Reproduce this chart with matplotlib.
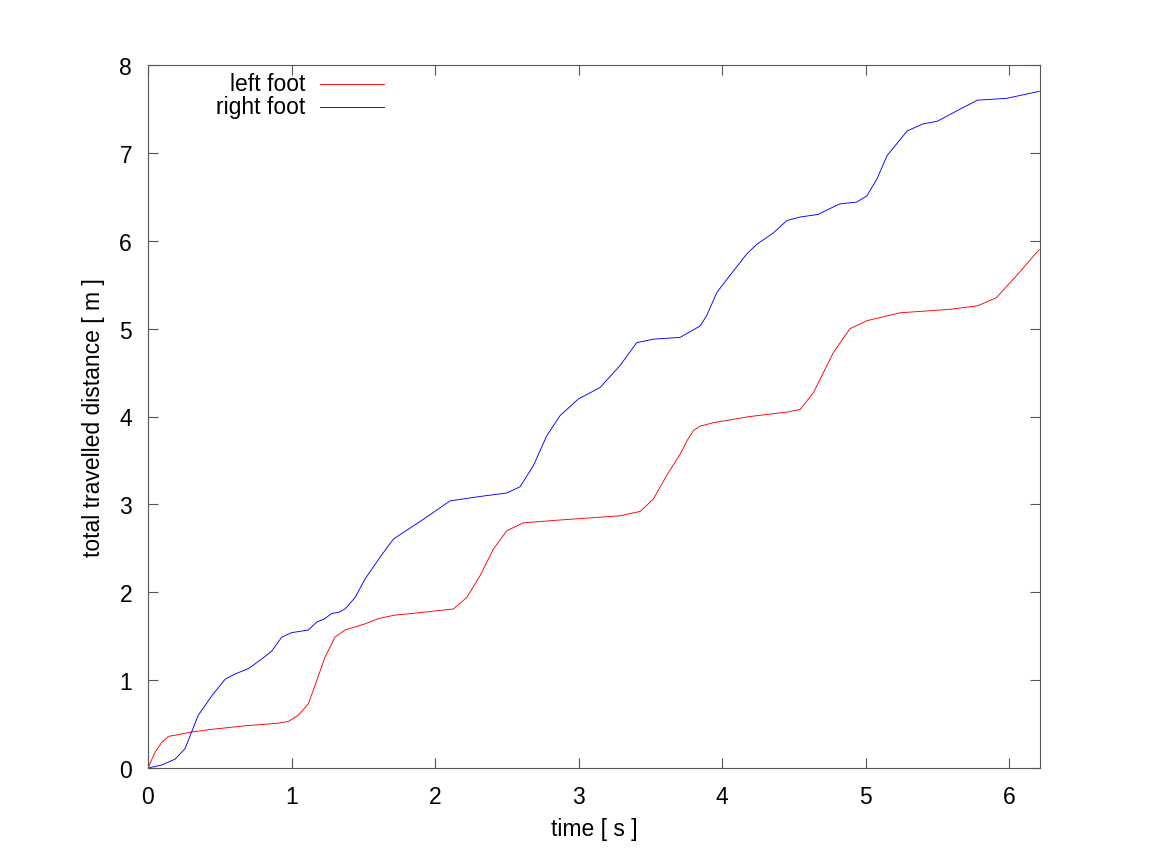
import matplotlib
matplotlib.use("Agg")
import matplotlib.pyplot as plt

plt.rcParams['font.family'] = ['Liberation Sans', 'DejaVu Sans']

left_t = [0.0, 0.049, 0.095, 0.142, 0.211, 0.304, 0.444, 0.676, 0.908, 0.978, 1.047, 1.117, 1.164,
          1.233, 1.303, 1.373, 1.512, 1.605, 1.72, 1.849, 2.128, 2.221, 2.314, 2.406, 2.50, 2.615,
          2.894, 3.289, 3.429, 3.521, 3.614, 3.707, 3.754, 3.80, 3.847, 3.94, 4.195, 4.451, 4.544,
          4.636, 4.776, 4.892, 5.008, 5.24, 5.59, 5.78, 5.91, 6.05, 6.21]
left_d = [0.0, 0.18, 0.29, 0.36, 0.38, 0.41, 0.44, 0.48, 0.51, 0.53, 0.60, 0.73, 0.94,
          1.26, 1.49, 1.57, 1.64, 1.70, 1.74, 1.76, 1.81, 1.94, 2.19, 2.49, 2.70, 2.79,
          2.825, 2.87, 2.92, 3.06, 3.33, 3.57, 3.72, 3.84, 3.89, 3.93, 4.00, 4.05, 4.08,
          4.27, 4.73, 5.00, 5.09, 5.18, 5.22, 5.26, 5.35, 5.60, 5.90]

right_t = [0.0, 0.095, 0.188, 0.258, 0.304, 0.35, 0.444, 0.537, 0.606, 0.699, 0.792, 0.862, 0.932,
           1.0, 1.117, 1.175, 1.233, 1.28, 1.326, 1.373, 1.443, 1.512, 1.617, 1.71, 1.918, 2.105,
           2.314, 2.50, 2.592, 2.685, 2.778, 2.871, 2.999, 3.15, 3.289, 3.405, 3.521, 3.707, 3.847,
           3.893, 3.963, 4.033, 4.172, 4.242, 4.358, 4.451, 4.544, 4.671, 4.73, 4.822, 4.938, 5.008,
           5.078, 5.15, 5.29, 5.40, 5.50, 5.66, 5.78, 5.98, 6.21]
right_d = [0.0, 0.034, 0.10, 0.22, 0.41, 0.60, 0.82, 1.01, 1.07, 1.13, 1.24, 1.33, 1.49,
           1.54, 1.57, 1.66, 1.70, 1.76, 1.77, 1.81, 1.94, 2.15, 2.40, 2.605, 2.83, 3.04,
           3.09, 3.13, 3.20, 3.44, 3.78, 4.01, 4.20, 4.33, 4.58, 4.84, 4.88, 4.90, 5.03,
           5.15, 5.41, 5.56, 5.85, 5.96, 6.09, 6.23, 6.27, 6.30, 6.35, 6.42, 6.44, 6.51,
           6.70, 6.97, 7.25, 7.33, 7.36, 7.50, 7.60, 7.62, 7.70]

series_labels = ['left foot', 'right foot']
series_colors = ['#ff0000', '#0000ff']

x_ticks = [0, 1, 2, 3, 4, 5, 6]
y_ticks = [0, 1, 2, 3, 4, 5, 6, 7, 8]

FS = 16.5

fig = plt.figure(figsize=(11.5, 8.62), dpi=100)
ax = fig.add_axes([148/1150, 1-769/862, (1040-148)/1150, (769-66)/862])

ax.plot(left_t, left_d, color=series_colors[0], lw=0.65)
ax.plot(right_t, right_d, color=series_colors[1], lw=0.65)

ax.set_xlim(0, 6.215)
ax.set_ylim(0, 8)
ax.set_xticks(x_ticks)
ax.set_yticks(y_ticks)
ax.tick_params(direction='in', length=7, width=0.8, color='#555555', labelsize=FS,
               top=True, right=True)
ax.tick_params(axis='x', pad=12)
ax.tick_params(axis='y', pad=11.5)
for s in ax.spines.values():
    s.set_color('#555555')
    s.set_linewidth(0.8)

ax.set_xlabel('time [ s ]', fontsize=FS, labelpad=7)
ax.set_ylabel('total travelled distance [ m ]', fontsize=FS, labelpad=10)

# gnuplot-style key: right-aligned text followed by a line sample
def ax_x(px):
    return (px - 148) / 892

def ax_y(py):
    return (769 - py) / 703

for i, (lab, col) in enumerate(zip(series_labels, series_colors)):
    py = 84.5 + 23.5 * i
    ax.text(ax_x(305), ax_y(py), lab, transform=ax.transAxes, ha='right', va='center',
            fontsize=FS)
    ax.plot([ax_x(320), ax_x(384)], [ax_y(py), ax_y(py)], transform=ax.transAxes,
            color=col, lw=0.65)

fig.savefig('out.png', dpi=100)
